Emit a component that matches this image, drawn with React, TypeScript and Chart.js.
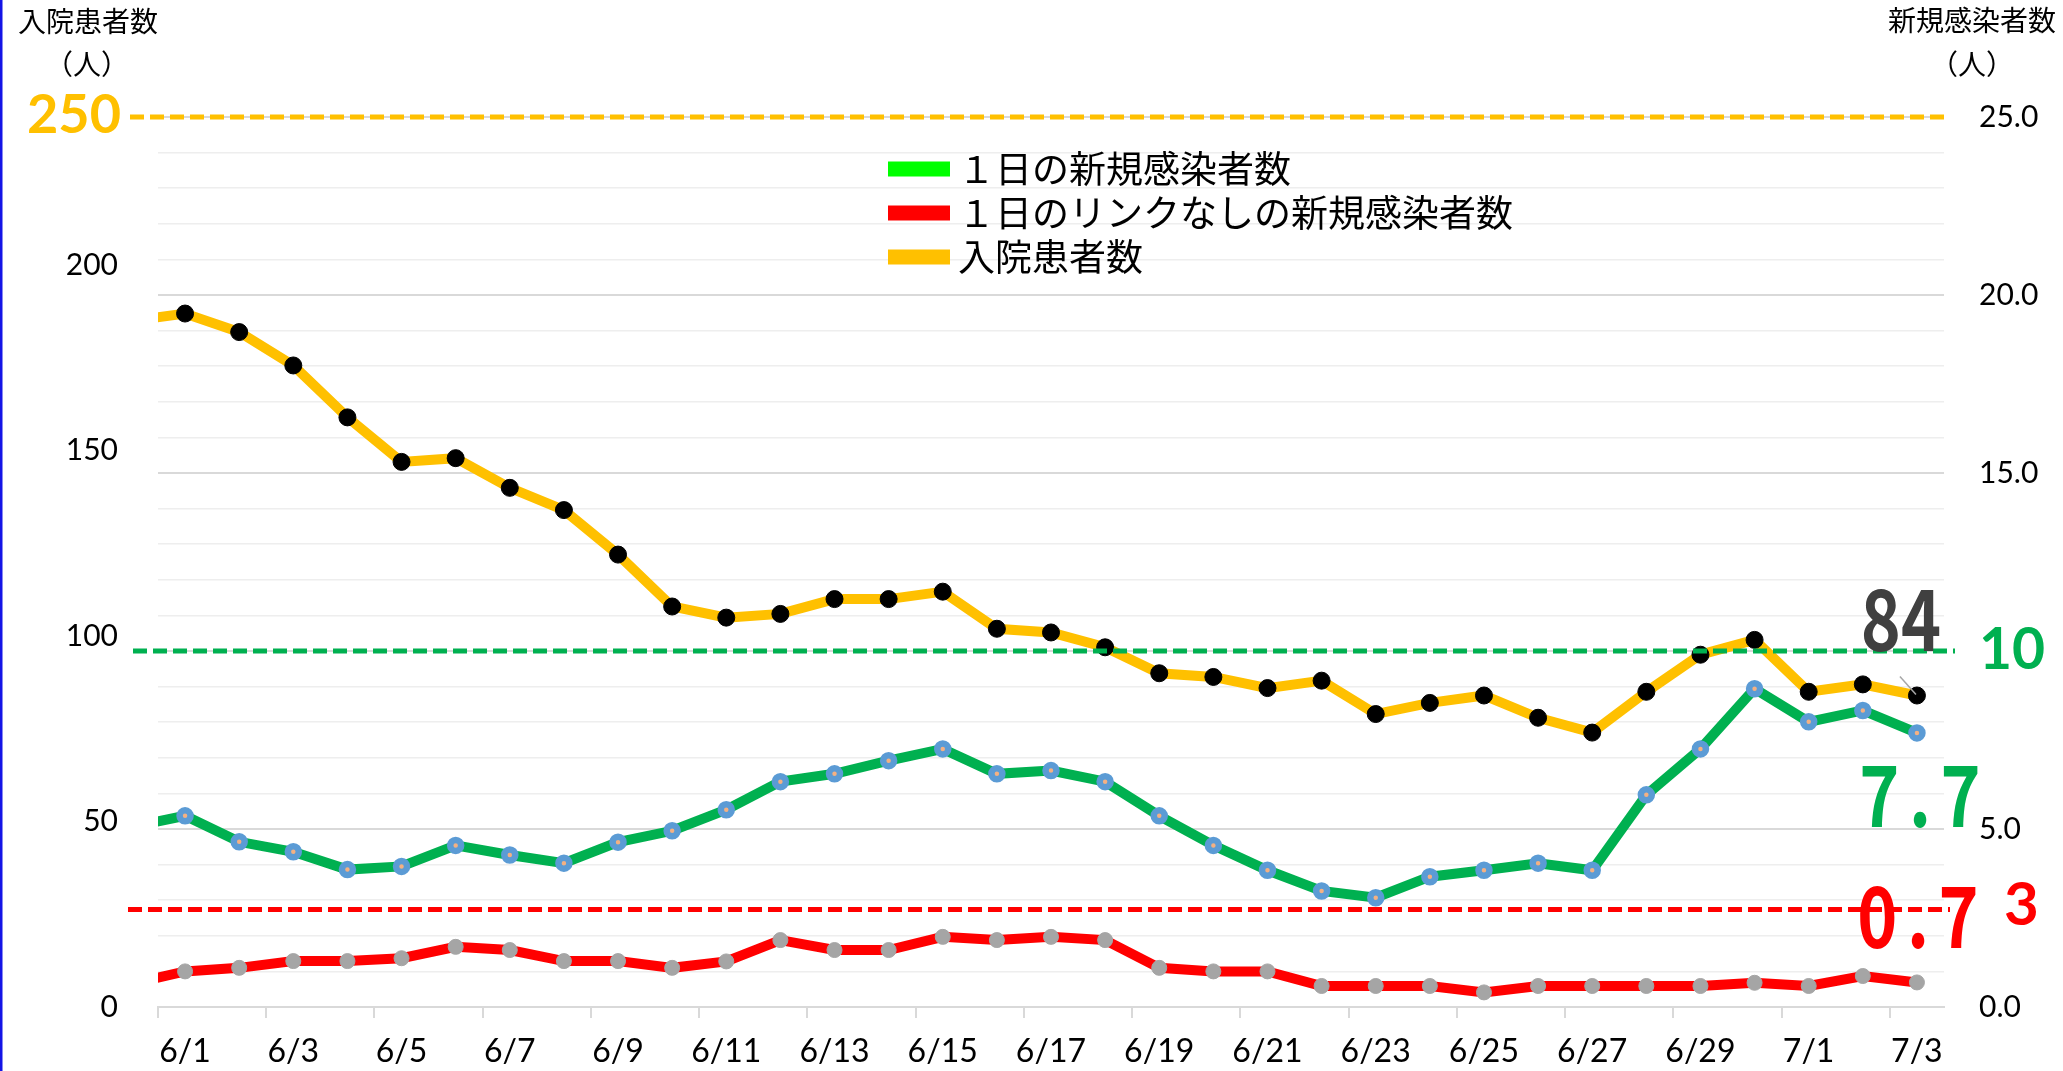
import React, { useEffect, useRef } from 'react';
import { Chart, registerables } from 'chart.js';

Chart.register(...registerables);

// ---- data ----
const dates = [
  '5/31', '6/1', '6/2', '6/3', '6/4', '6/5', '6/6', '6/7', '6/8', '6/9', '6/10',
  '6/11', '6/12', '6/13', '6/14', '6/15', '6/16', '6/17', '6/18', '6/19', '6/20',
  '6/21', '6/22', '6/23', '6/24', '6/25', '6/26', '6/27', '6/28', '6/29', '6/30',
  '7/1', '7/2', '7/3',
];
const hospitalized = [
  185, 187, 182, 173, 159, 147, 148, 140, 134, 122, 108,
  105, 106, 110, 110, 112, 102, 101, 97, 90, 89,
  86, 88, 79, 82, 84, 78, 74, 85, 95, 99,
  85, 87, 84,
];
const newCases = [
  5.06, 5.37, 4.64, 4.36, 3.86, 3.95, 4.54, 4.27, 4.04, 4.63, 4.95,
  5.54, 6.33, 6.55, 6.92, 7.25, 6.55, 6.64, 6.33, 5.37, 4.54,
  3.84, 3.26, 3.07, 3.66, 3.84, 4.04, 3.84, 5.96, 7.25, 8.94,
  8.01, 8.33, 7.7,
];
const unlinkedCases = [
  0.65, 1.0, 1.1, 1.29, 1.29, 1.37, 1.69, 1.6, 1.29, 1.29, 1.1,
  1.28, 1.88, 1.6, 1.6, 1.97, 1.88, 1.97, 1.88, 1.1, 1.0,
  1.0, 0.59, 0.59, 0.59, 0.41, 0.59, 0.59, 0.59, 0.59, 0.68,
  0.59, 0.87, 0.69,
];
const seriesLabels = ['１日の新規感染者数', '１日のリンクなしの新規感染者数', '入院患者数'];
const legendColors = ['#00FF00', '#FF0000', '#FFC000'];
const leftTickValues = [0, 50, 100, 150, 200];
const leftMax = 240;
const rightMax = 25;
const thresholdValues = [25, 10, 2.74]; // on the right axis
const thresholdColors = ['#FFC000', '#00B050', '#FF0000'];
const topLabel = '250';
const endLabels = ['84', '7.7', '0.7', '3'];
const leftTitle = ['入院患者数', '（人）'];
const rightTitle = ['新規感染者数', '（人）'];

const toXY = (arr: number[]) => arr.map((v, i) => ({ x: i - 1, y: v }));

const CJK = '"Noto Sans CJK JP", "Noto Sans CJK SC", sans-serif';

function drawScaled(ctx: CanvasRenderingContext2D, text: string, cx: number, baseline: number,
  font: string, color: string, sx: number, spacing: number) {
  ctx.save();
  ctx.translate(cx, baseline);
  ctx.scale(sx, 1);
  ctx.font = font;
  (ctx as any).letterSpacing = spacing + 'px';
  ctx.textAlign = 'center';
  ctx.textBaseline = 'alphabetic';
  ctx.fillStyle = color;
  ctx.fillText(text, spacing / 2, 0);
  ctx.restore();
}

const overlayPlugin = {
  id: 'overlay',
  afterDraw(chart: any) {
    const ctx: CanvasRenderingContext2D = chart.ctx;
    const y1 = chart.scales.y1;
    ctx.save();

    // left blue edge
    ctx.fillStyle = '#1414E6';
    ctx.fillRect(0, 0, 2.5, chart.height);

    // dashed threshold lines
    const extents = [[130, 1950], [133, 1955], [128, 1950]];
    ctx.lineWidth = 5;
    ctx.setLineDash([14, 6]);
    thresholdValues.forEach((v, i) => {
      const y = y1.getPixelForValue(v);
      ctx.strokeStyle = thresholdColors[i];
      ctx.beginPath();
      ctx.moveTo(extents[i][0], y);
      ctx.lineTo(extents[i][1], y);
      ctx.stroke();
    });
    ctx.setLineDash([]);

    // "250" label
    ctx.font = 'bold 54px Lato';
    ctx.fillStyle = '#FFC000';
    ctx.textAlign = 'right';
    ctx.textBaseline = 'alphabetic';
    ctx.fillText(topLabel, 121, 133);

    // axis titles
    ctx.font = '28px ' + CJK;
    ctx.fillStyle = '#000';
    ctx.textAlign = 'center';
    ctx.textBaseline = 'middle';
    ctx.fillText(leftTitle[0], 88, 21);
    ctx.fillText(leftTitle[1], 87, 64);
    ctx.fillText(rightTitle[0], 1972, 20);
    ctx.fillText(rightTitle[1], 1972, 64);

    // legend
    const rows = [169, 213, 257];
    seriesLabels.forEach((label, i) => {
      ctx.fillStyle = legendColors[i];
      ctx.fillRect(888, rows[i] - 7.5, 62, 15);
      ctx.fillStyle = '#000';
      ctx.font = '37px ' + CJK;
      ctx.textAlign = 'left';
      ctx.textBaseline = 'middle';
      ctx.fillText(label, 958, rows[i]);
    });

    // end labels
    const last = dates.length - 1;
    const pY = chart.getDatasetMeta(2).data[last];
    const pG = chart.getDatasetMeta(0).data[last];
    const pR = chart.getDatasetMeta(1).data[last];
    // leader line
    ctx.strokeStyle = '#A6A6A6';
    ctx.lineWidth = 1.5;
    ctx.beginPath();
    ctx.moveTo(pY.x - 17, pY.y - 19);
    ctx.lineTo(pY.x - 1, pY.y - 1);
    ctx.stroke();

    drawScaled(ctx, endLabels[0], pY.x - 16, pY.y - 45, 'bold 85px ' + CJK, '#404040', 0.8, 0);
    drawScaled(ctx, endLabels[1], pG.x + 3, pG.y + 94, 'bold 85px ' + CJK, '#00B050', 0.8, 12);
    drawScaled(ctx, endLabels[2], pR.x + 1, pR.y - 34, 'bold 85px ' + CJK, '#FF0000', 0.8, 12);

    ctx.font = 'bold 60px Lato';
    ctx.fillStyle = '#FF0000';
    ctx.textAlign = 'left';
    ctx.textBaseline = 'alphabetic';
    ctx.fillText(endLabels[3], 2004, 925);

    ctx.restore();
  },
};

export default function App() {
  const ref = useRef<HTMLCanvasElement>(null);
  useEffect(() => {
    document.body.style.margin = '0';
    document.body.style.overflow = 'hidden';
    const chart = new Chart(ref.current as HTMLCanvasElement, {
      type: 'line',
      data: {
        datasets: [
          {
            label: seriesLabels[0],
            data: toXY(newCases),
            yAxisID: 'y1',
            borderColor: '#00B050',
            borderWidth: 10,
            pointRadius: 5.5,
            pointBorderWidth: 6.5,
            pointBackgroundColor: '#F4B183',
            pointBorderColor: '#5B9BD5',
            tension: 0,
          },
          {
            label: seriesLabels[1],
            data: toXY(unlinkedCases),
            yAxisID: 'y1',
            borderColor: '#FF0000',
            borderWidth: 10,
            pointRadius: 7.5,
            pointBorderWidth: 1,
            pointBackgroundColor: '#A5A5A5',
            pointBorderColor: '#A5A5A5',
            tension: 0,
          },
          {
            label: seriesLabels[2],
            data: toXY(hospitalized),
            yAxisID: 'y',
            borderColor: '#FFC000',
            borderWidth: 10,
            pointRadius: 8.5,
            pointBorderWidth: 1,
            pointBackgroundColor: '#000000',
            pointBorderColor: '#000000',
            tension: 0,
          },
        ],
      },
      options: {
        responsive: false,
        animation: false,
        layout: { padding: { top: 117, left: 0, right: 0, bottom: 0 } },
        plugins: {
          legend: { display: false },
          tooltip: { enabled: false },
        },
        scales: {
          x: {
            type: 'linear',
            min: -0.5,
            max: dates.length - 1.5,
            afterBuildTicks: (axis: any) => {
              const t: any[] = [];
              for (let i = 1; i < dates.length; i += 2) t.push({ value: i - 1.5 });
              axis.ticks = t;
            },
            afterFit: (axis: any) => { axis.height = 64; },
            grid: {
              drawOnChartArea: false,
              drawTicks: true,
              tickLength: 11,
              color: '#D9D9D9',
              lineWidth: 2,
            },
            border: { display: true, color: '#D9D9D9', width: 2 },
            ticks: {
              autoSkip: false,
              maxRotation: 0,
              minRotation: 0,
              labelOffset: 27,
              padding: 14,
              color: '#000',
              font: { family: 'Lato', size: 32 },
              callback: (v: any) => dates[Math.round(Number(v) + 1.5)] ?? '',
            },
          },
          y: {
            position: 'left',
            min: 0,
            max: leftMax,
            afterBuildTicks: (axis: any) => {
              axis.ticks = leftTickValues.map((v) => ({ value: v }));
            },
            afterFit: (axis: any) => { axis.width = 158; },
            grid: { display: false },
            border: { display: false },
            ticks: {
              padding: 32,
              color: '#000',
              font: { family: 'Lato', size: 30 },
            },
          },
          y1: {
            position: 'right',
            min: 0,
            max: rightMax,
            afterFit: (axis: any) => { axis.width = 119; },
            grid: {
              drawTicks: false,
              color: (c: any) => (c.tick && c.tick.value % 5 === 0 ? '#D9D9D9' : '#EEEEEE'),
              lineWidth: (c: any) => (c.tick && c.tick.value % 5 === 0 ? 2 : 1.5),
            },
            border: { display: false },
            ticks: {
              stepSize: 1,
              autoSkip: false,
              padding: 35,
              color: (c: any) => (c.tick && c.tick.value === 10 ? '#00B050' : '#000'),
              font: (c: any) => (c.tick && c.tick.value === 10
                ? { family: 'Lato', size: 57, weight: 'bold' }
                : { family: 'Lato', size: 30 }),
              callback: (v: any) => {
                const n = Number(v);
                if (n % 5 !== 0) return '';
                return n === 10 ? '10' : n.toFixed(1);
              },
            },
          },
        },
      } as any,
      plugins: [overlayPlugin],
    });
    return () => chart.destroy();
  }, []);

  return (
    <div style={{ width: 2063, height: 1071, background: '#fff' }}>
      <canvas ref={ref} width={2063} height={1071} style={{ display: 'block' }} />
    </div>
  );
}
